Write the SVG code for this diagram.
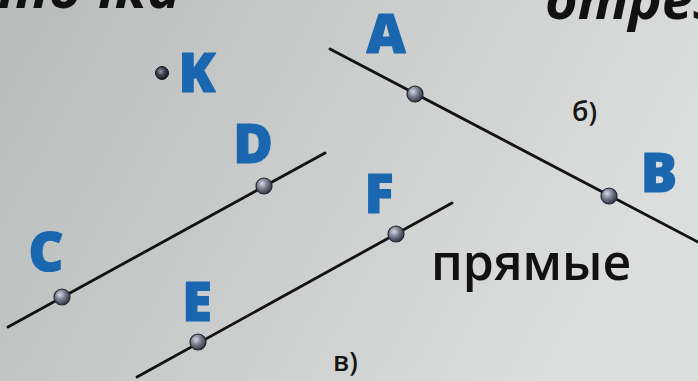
<svg xmlns="http://www.w3.org/2000/svg" width="698" height="381" viewBox="0 0 698 381">
<defs>
<linearGradient id="bg" x1="0" y1="0" x2="1" y2="0.3">
<stop offset="0" stop-color="#b7bbb9"/>
<stop offset="0.6" stop-color="#cdd0ce"/>
<stop offset="1" stop-color="#dcdedd"/>
</linearGradient>
<radialGradient id="ball" cx="0.38" cy="0.35" r="0.7">
<stop offset="0" stop-color="#d6dae4"/>
<stop offset="0.45" stop-color="#7a8090"/>
<stop offset="1" stop-color="#2a2e38"/>
</radialGradient>
<radialGradient id="ballk" cx="0.4" cy="0.38" r="0.65">
<stop offset="0" stop-color="#9098a8"/>
<stop offset="0.5" stop-color="#3a3f4a"/>
<stop offset="1" stop-color="#15171c"/>
</radialGradient>
<style>
.ln{stroke:#121212;stroke-width:2.8;stroke-linecap:round;fill:none}
.pt{fill:url(#ball);stroke:#23262e;stroke-width:1.2}
.lbl{font-family:"Open Sans","DejaVu Sans",sans-serif;font-weight:800;font-size:54px;fill:#1a67b0;stroke:#1a67b0;stroke-width:1.2;stroke-linejoin:round;text-anchor:middle}
.sub{font-family:"Open Sans","DejaVu Sans",sans-serif;font-weight:600;font-size:27px;fill:#151515}
.big{font-family:"Open Sans","DejaVu Sans",sans-serif;font-weight:600;font-size:50px;fill:#111}
.head{font-family:"Open Sans","DejaVu Sans",sans-serif;font-weight:700;font-style:italic;font-size:56px;fill:#111}
</style>
</defs>
<rect width="698" height="381" fill="url(#bg)"/>
<text class="head" x="-2" y="8">точка</text>
<text class="head" x="545" y="19">отрез</text>
<g id="connectors">
<line class="ln" x1="330" y1="49" x2="698" y2="242"/>
<line class="ln" x1="8" y1="327" x2="325" y2="153"/>
<line class="ln" x1="137" y1="377" x2="452" y2="203"/>
</g>
<g id="K"><circle cx="162" cy="73" r="6.5" fill="url(#ballk)" stroke="#15171c" stroke-width="1"/><text class="lbl" x="197" y="92">K</text></g>
<g id="A"><circle class="pt" cx="415" cy="94" r="8"/><text class="lbl" x="386" y="53">A</text></g>
<g id="B"><circle class="pt" cx="609" cy="196" r="8"/><text class="lbl" x="659" y="192">B</text></g>
<g id="C"><circle class="pt" cx="62" cy="297" r="8"/><text class="lbl" x="46" y="271">C</text></g>
<g id="D"><circle class="pt" cx="264" cy="186" r="8"/><text class="lbl" x="253" y="163">D</text></g>
<g id="E"><circle class="pt" cx="198" cy="342" r="8"/><text class="lbl" x="197" y="321">E</text></g>
<g id="F"><circle class="pt" cx="396" cy="234" r="8"/><text class="lbl" x="379" y="213">F</text></g>
<text class="sub" x="572" y="121">б)</text>
<text class="sub" x="333" y="371">в)</text>
<text class="big" x="431" y="280">прямые</text>
</svg>
